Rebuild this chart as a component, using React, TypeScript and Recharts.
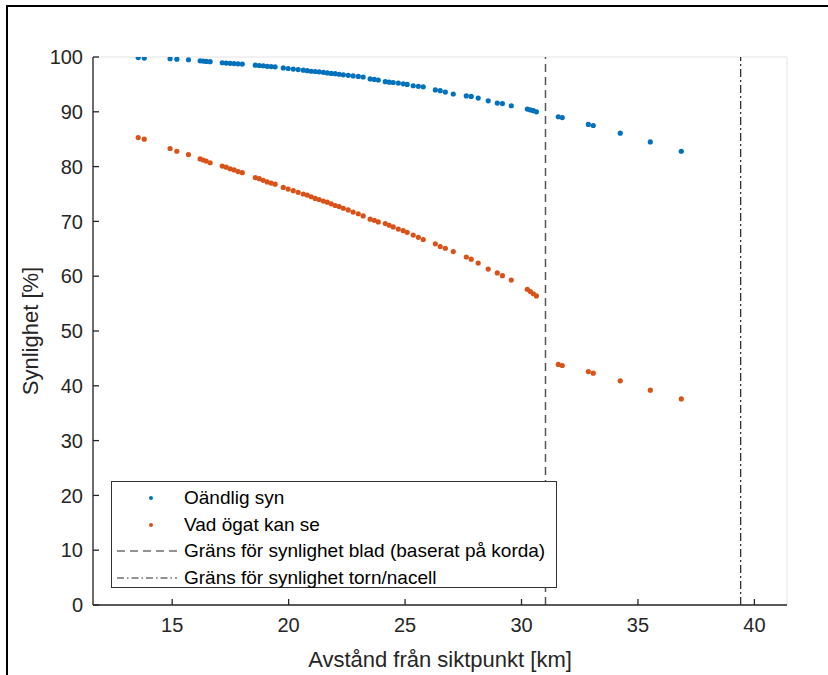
import {
  CartesianGrid,
  ReferenceLine,
  Scatter,
  ScatterChart,
  XAxis,
  YAxis,
} from 'recharts'

// distance from viewpoint [km], shared by both series
const distances = [
  13.54, 13.8, 14.91, 15.2, 15.7, 16.2, 16.33, 16.46, 16.63, 17.15, 17.32, 17.49,
  17.66, 17.83, 18.01, 18.57, 18.74, 18.91, 19.08, 19.25, 19.42, 19.77, 19.98,
  20.2, 20.41, 20.63, 20.8, 20.97, 21.14, 21.31, 21.49, 21.66, 21.83, 22.0,
  22.17, 22.35, 22.56, 22.77, 22.99, 23.2, 23.5, 23.68, 23.85, 24.15, 24.32,
  24.49, 24.71, 24.92, 25.09, 25.35, 25.57, 25.78, 26.3, 26.51, 26.73, 27.07,
  27.63, 27.84, 28.14, 28.57, 28.96, 29.18, 29.56, 30.25, 30.38, 30.51, 30.64,
  31.58, 31.75, 32.87, 33.08, 34.24, 35.53, 36.86,
]

const oandligSyn = [
  99.9, 99.8, 99.7, 99.6, 99.5, 99.3, 99.25, 99.2, 99.15, 98.95, 98.9, 98.85,
  98.8, 98.75, 98.7, 98.5, 98.45, 98.4, 98.3, 98.25, 98.2, 98.0, 97.9, 97.8,
  97.7, 97.6, 97.5, 97.4, 97.35, 97.3, 97.2, 97.1, 97.0, 96.95, 96.85, 96.75,
  96.65, 96.55, 96.45, 96.35, 96.0, 95.9, 95.8, 95.5, 95.4, 95.35, 95.25, 95.1,
  95.0, 94.75, 94.65, 94.55, 94.0, 93.85, 93.6, 93.25, 92.9, 92.8, 92.5, 92.0,
  91.6, 91.5, 91.1, 90.5, 90.35, 90.2, 90.0, 89.1, 88.95, 87.7, 87.5, 86.1,
  84.5, 82.8,
]

const vadOgatKanSe = [
  85.3, 85.0, 83.3, 82.8, 82.2, 81.4, 81.2, 81.0, 80.7, 80.1, 79.9, 79.6, 79.4,
  79.1, 78.9, 78.0, 77.8, 77.5, 77.2, 77.0, 76.8, 76.2, 75.9, 75.6, 75.3, 75.0,
  74.8, 74.5, 74.2, 74.0, 73.7, 73.5, 73.2, 72.9, 72.7, 72.4, 72.1, 71.7, 71.4,
  71.0, 70.4, 70.2, 69.9, 69.6, 69.3, 69.0, 68.6, 68.3, 68.0, 67.5, 67.1, 66.7,
  65.9, 65.4, 65.1, 64.5, 63.5, 63.1, 62.4, 61.3, 60.6, 60.1, 59.3, 57.6, 57.2,
  56.8, 56.4, 43.9, 43.7, 42.6, 42.3, 40.9, 39.2, 37.6,
]

const xTicks = [15, 20, 25, 30, 35, 40]
const yTicks = [0, 10, 20, 30, 40, 50, 60, 70, 80, 90, 100]
const bladLimit = 31.03
const tornLimit = 39.41

const legendItems = [
  { label: 'Oändlig syn', kind: 'dot', color: '#0072BD' },
  { label: 'Vad ögat kan se', kind: 'dot', color: '#D95319' },
  { label: 'Gräns för synlighet blad (baserat på korda)', kind: 'dash', color: '#262626' },
  { label: 'Gräns för synlighet torn/nacell', kind: 'dashdot', color: '#262626' },
]

const blueData = distances.map((x, i) => ({ x, y: oandligSyn[i] }))
const orangeData = distances.map((x, i) => ({ x, y: vadOgatKanSe[i] }))

const FONT = '"Liberation Sans", Arial, sans-serif'
const AXIS = '#262626'
const tickStyle = { fill: AXIS, fontSize: 20, fontFamily: FONT }

const dot = (color: string) => (p: any) => (
  <circle cx={p.cx} cy={p.cy} r={2.6} fill={color} />
)

// legend sits over the plot, like MATLAB's 'southwest' legend
function LegendBox() {
  return (
    <div
      style={{
        position: 'absolute',
        left: 111,
        top: 481,
        width: 446,
        height: 107,
        background: '#fff',
        border: '1px solid #333',
        fontFamily: FONT,
        fontSize: 19,
        color: '#000',
        paddingTop: 3,
        boxSizing: 'border-box',
      }}
    >
      {legendItems.map((it) => (
        <div key={it.label} style={{ display: 'flex', alignItems: 'center', height: 26.5 }}>
          <svg width={72} height={20} style={{ flex: 'none' }}>
            {it.kind === 'dot' && <circle cx={39} cy={10} r={2} fill={it.color} />}
            {it.kind === 'dash' && (
              <line x1={5} x2={65} y1={10} y2={10} stroke={it.color} strokeWidth={1} strokeDasharray="8 5" />
            )}
            {it.kind === 'dashdot' && (
              <line x1={5} x2={65} y1={10} y2={10} stroke={it.color} strokeWidth={1} strokeDasharray="7 3 1.5 3" />
            )}
          </svg>
          <span style={{ whiteSpace: 'nowrap' }}>{it.label}</span>
        </div>
      ))}
    </div>
  )
}

export default function App() {
  return (
    <div style={{ position: 'absolute', left: 0, top: 0, width: 828, height: 675, overflow: 'hidden', background: '#fff' }}>
      <div
        style={{
          position: 'absolute',
          left: 6,
          top: 5,
          width: 900,
          height: 760,
          borderLeft: '2px solid #000',
          borderTop: '2px solid #000',
          boxSizing: 'border-box',
        }}
      />
      <div style={{ position: 'absolute', left: 0, top: 0 }}>
        <ScatterChart width={828} height={675} margin={{ top: 57, right: 41, bottom: 30, left: 33 }}>
          <CartesianGrid stroke="#e3e3e3" strokeWidth={1} />
          <XAxis
            xAxisId="b"
            type="number"
            dataKey="x"
            domain={[11.6, 41.4]}
            ticks={xTicks}
            allowDataOverflow
            height={40}
            stroke={AXIS}
            strokeWidth={1.3}
            tickSize={-6}
            tickMargin={19}
            tick={tickStyle}
            label={{
              value: 'Avstånd från siktpunkt [km]',
              position: 'bottom',
              offset: 6,
              style: { fill: AXIS, fontSize: 22, fontFamily: FONT },
            }}
          />
          <XAxis
            xAxisId="t"
            orientation="top"
            type="number"
            dataKey="x"
            domain={[11.6, 41.4]}
            ticks={xTicks}
            allowDataOverflow
            height={0}
            stroke={AXIS}
            strokeWidth={1.3}
            tickSize={-6}
            tick={() => <g />}
          />
          <YAxis
            yAxisId="l"
            type="number"
            dataKey="y"
            domain={[0, 100]}
            ticks={yTicks}
            allowDataOverflow
            width={60}
            stroke={AXIS}
            strokeWidth={1.3}
            tickSize={-6}
            tickMargin={16}
            tick={tickStyle}
            label={{
              value: 'Synlighet [%]',
              angle: -90,
              position: 'insideLeft',
              offset: -3,
              style: { fill: AXIS, fontSize: 22, fontFamily: FONT, textAnchor: 'middle' },
            }}
          />
          <YAxis
            yAxisId="r"
            orientation="right"
            type="number"
            dataKey="y"
            domain={[0, 100]}
            ticks={yTicks}
            allowDataOverflow
            width={0}
            stroke={AXIS}
            strokeWidth={1.3}
            tickSize={-6}
            tick={() => <g />}
          />
          <ReferenceLine xAxisId="b" yAxisId="l" x={bladLimit} stroke="#555" strokeWidth={1.5} strokeDasharray="8 5" />
          <ReferenceLine xAxisId="b" yAxisId="l" x={tornLimit} stroke="#333" strokeWidth={1.3} strokeDasharray="8 3 2 3" />
          <Scatter
            xAxisId="b"
            yAxisId="l"
            name="Oändlig syn"
            data={blueData}
            fill="#0072BD"
            shape={dot('#0072BD')}
            isAnimationActive={false}
          />
          <Scatter
            xAxisId="b"
            yAxisId="l"
            name="Vad ögat kan se"
            data={orangeData}
            fill="#D95319"
            shape={dot('#D95319')}
            isAnimationActive={false}
          />
        </ScatterChart>
      </div>
      <LegendBox />
    </div>
  )
}
